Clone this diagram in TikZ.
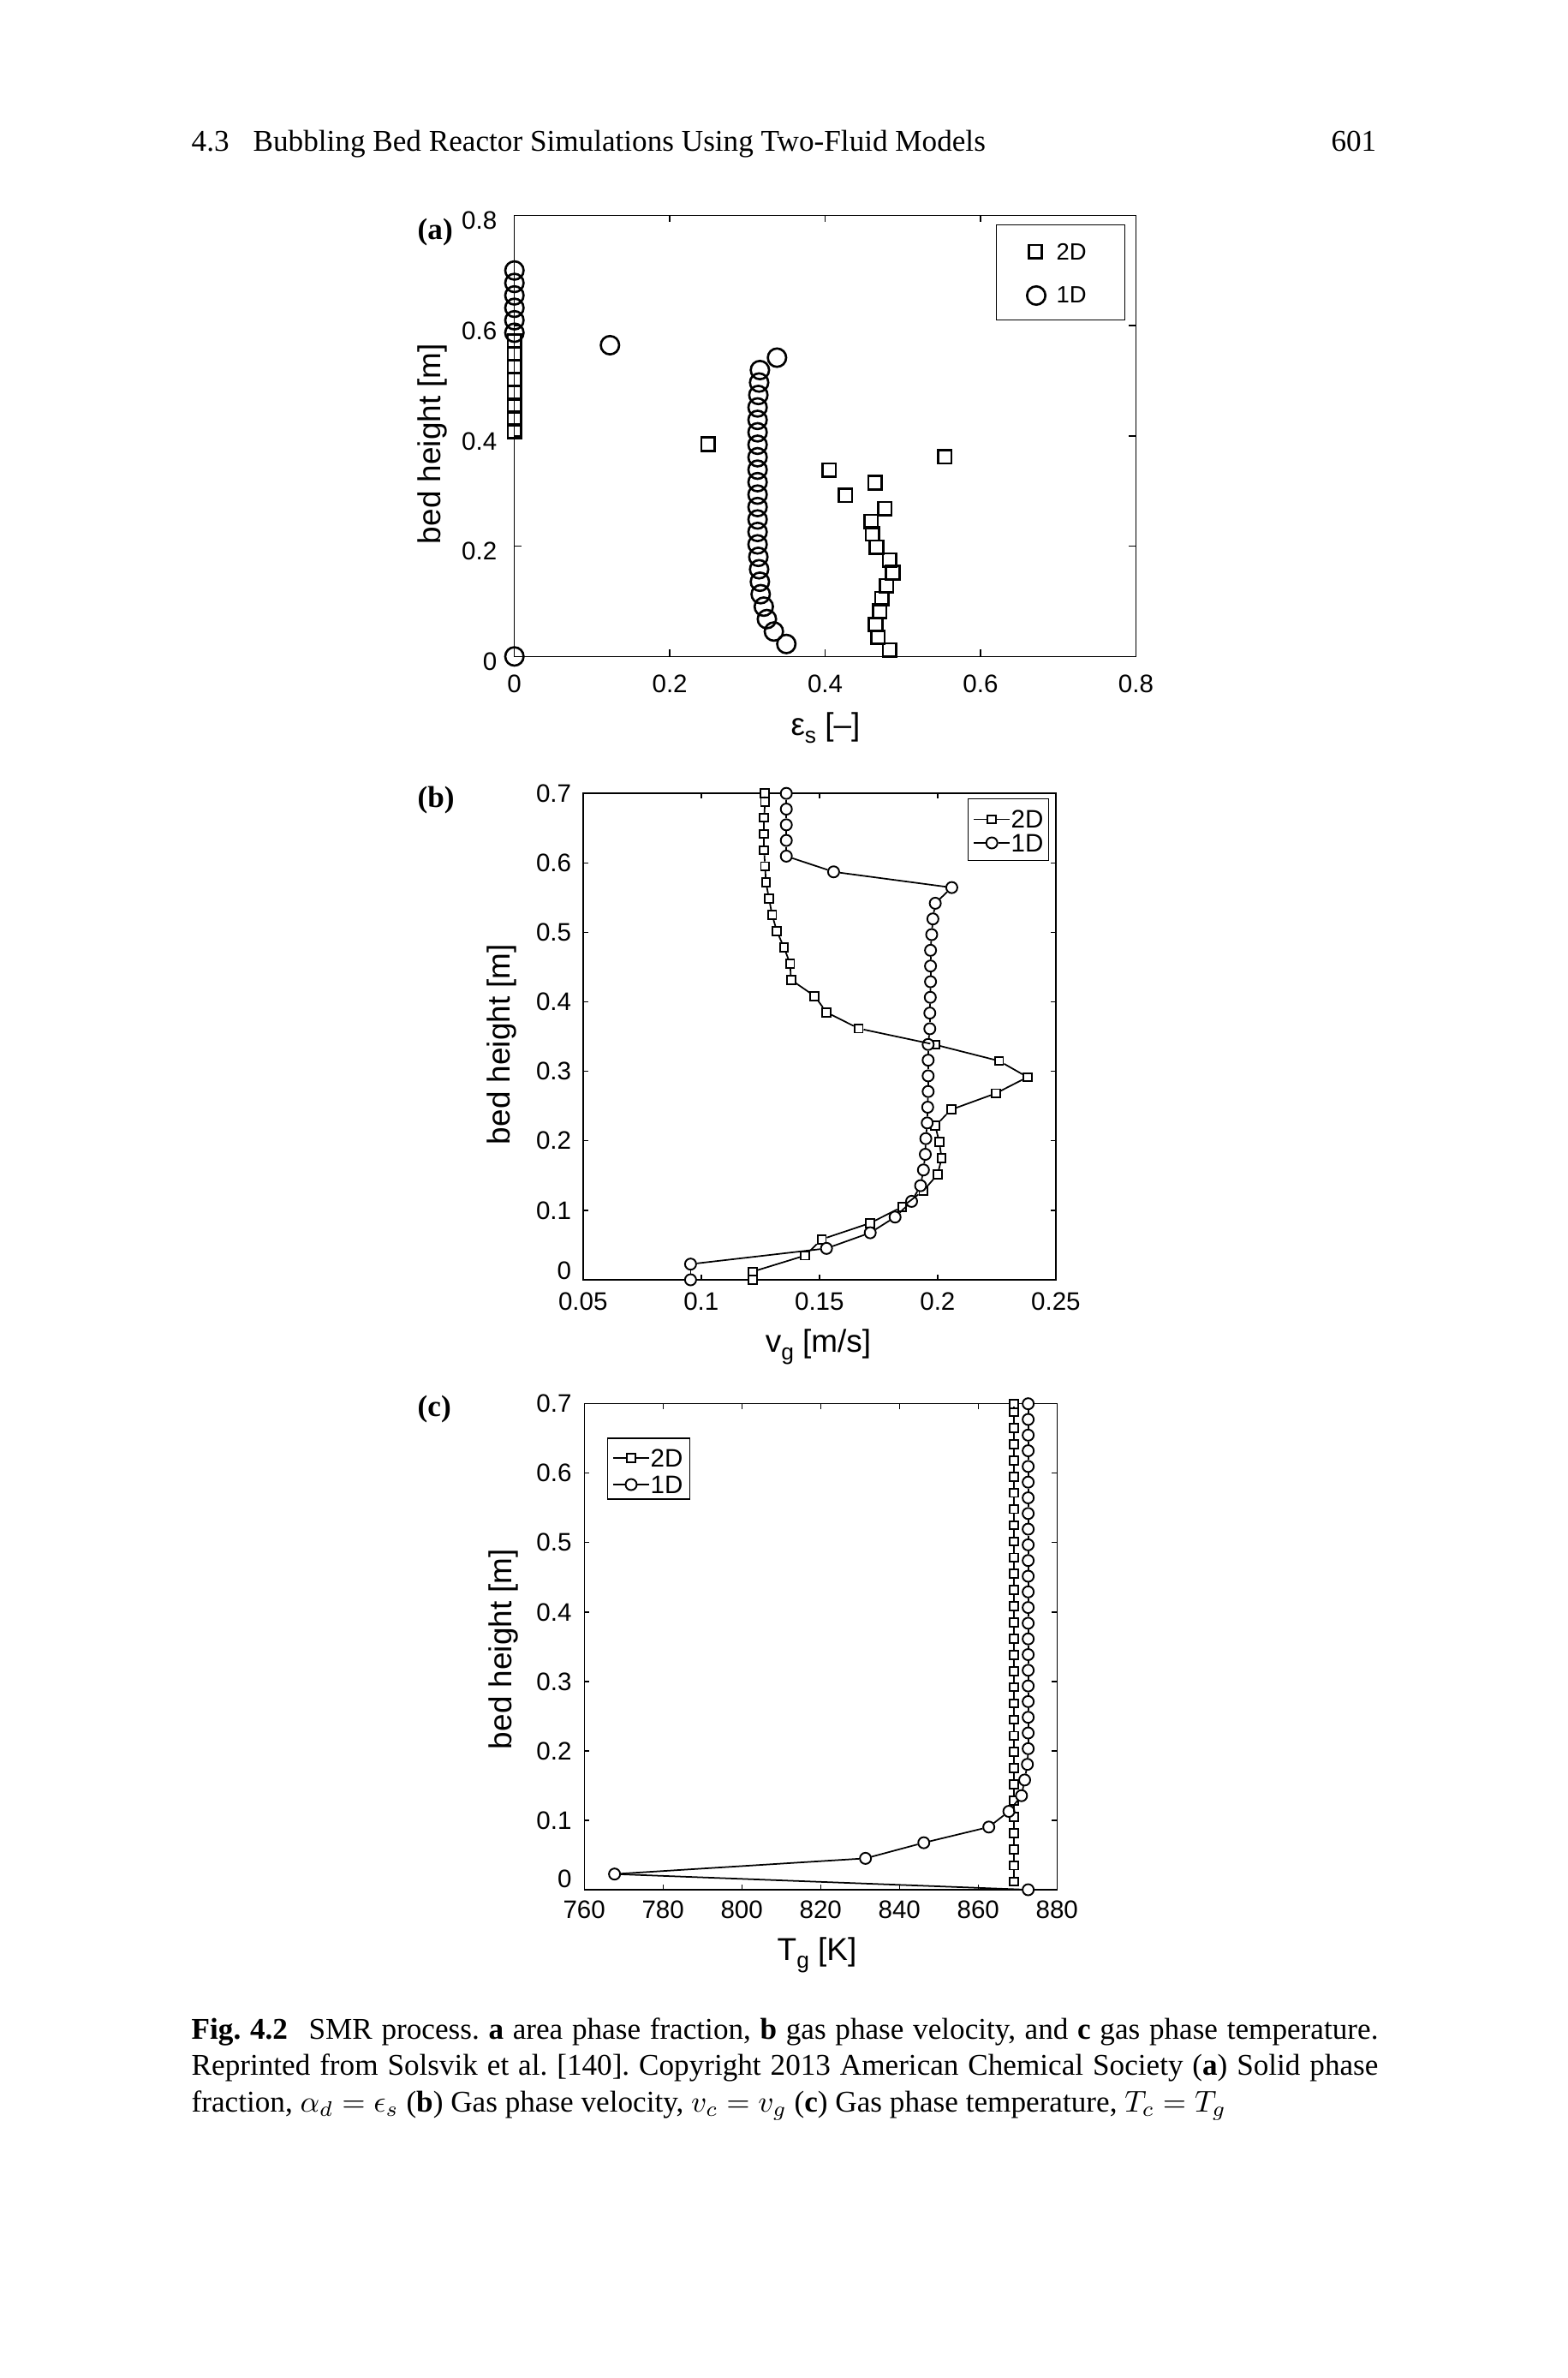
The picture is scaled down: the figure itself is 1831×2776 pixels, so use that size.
\documentclass[tikz,border=0pt]{standalone}
\usepackage{fontspec}
\setmainfont{Liberation Serif}
\newfontfamily\plotfont{Liberation Sans}
\newcommand\plotsub[1]{\raisebox{-0.5ex}{\fontsize{7.5}{8}\selectfont #1}}
\begin{document}
\begin{tikzpicture}[x=0.01cm,y=-0.01cm,
  boxline/.style={line width=0.4pt},
  ticklab/.style={font=\plotfont\fontsize{8.4}{9}\selectfont, inner sep=0pt},
  axlab/.style={font=\plotfont\fontsize{10.5}{12}\selectfont, inner sep=0pt},
  leglab/.style={font=\plotfont\fontsize{8.4}{9}\selectfont, inner sep=0pt, anchor=west},
  amkc/.style={circle, draw, line width=0.75pt, minimum size=0.214cm, inner sep=0pt},
  amks/.style={rectangle, draw, line width=0.75pt, minimum size=0.155cm, inner sep=0pt},
  bmkc/.style={circle, draw, fill=white, line width=0.55pt, minimum size=0.13cm, inner sep=0pt},
  bmks/.style={rectangle, draw, fill=white, line width=0.55pt, minimum size=0.097cm, inner sep=0pt},
  dline/.style={line width=0.5pt},
  pagetxt/.style={font=\fontsize{10}{12}\selectfont, inner sep=0pt},
  panellab/.style={font=\bfseries\fontsize{10}{12}\selectfont, inner sep=0pt, anchor=base west}]
\useasboundingbox (0,0) rectangle (1831,2776);
\fill[white] (0,0) rectangle (1831,2776);

% ---------- header ----------
\node[pagetxt, anchor=base west] (hnum) at (223,177) {4.3};
\node[pagetxt, anchor=base west] (htitle) at (295,177) {Bubbling Bed Reactor Simulations Using Two-Fluid Models};
\node[pagetxt, anchor=base east] (hpage) at (1608,177) {601};

% ---------- panel labels ----------
\node[panellab] (pa) at (487,280) {(a)};
\node[panellab] (pb) at (487,942) {(b)};
\node[panellab] (pc) at (487,1653) {(c)};

% ================= plot (a) =================
\begin{scope}[shift={(600.7,766.3)}, x=9.066cm, y=6.4325cm]
  \draw[boxline] (0,0) rectangle (0.8,0.8);
  \foreach \v in {0.2,0.4,0.6} {
    \draw[boxline] (\v,0) -- ++(0cm,0.08cm);
    \draw[boxline] (\v,0.8) -- ++(0cm,-0.08cm);
    \draw[boxline] (0,\v) -- ++(0.08cm,0cm);
    \draw[boxline] (0.8,\v) -- ++(-0.08cm,0cm);
  }
  \foreach \v [count=\i] in {0,0.2,0.4,0.6,0.8} {
    \node[ticklab, anchor=north, yshift=-0.207cm] (ax\i) at (\v,0) {\v};
    \node[ticklab, anchor=east, xshift=-0.197cm, yshift=-0.06cm] (ay\i) at (0,\v) {\v};
  }
  % 2D squares
  \foreach \px/\py [count=\i] in {0/0.4083,0/0.4317,0/0.455,0/0.4783,0/0.5017,0/0.525,0/0.5483,0/0.5717,
     0.249/0.385,0.554/0.362,0.405/0.338,0.464/0.315,0.426/0.292,0.477/0.268,0.459/0.245,0.461/0.222,
     0.466/0.198,0.483/0.175,0.487/0.152,0.479/0.128,0.473/0.105,0.470/0.082,0.465/0.058,0.468/0.035,0.483/0.0117}
    \node[amks] (aS\i) at (\px,\py) {};
  % 1D circles
  \foreach \px/\py [count=\i] in {0/0,0.350/0.0226,0.334/0.0452,0.325/0.0677,0.321/0.0903,0.317/0.1129,
     0.316/0.1355,0.315/0.1581,0.314/0.1806,0.313/0.2032,0.313/0.2258,0.313/0.2484,0.313/0.2710,
     0.313/0.2935,0.313/0.3161,0.313/0.3387,0.313/0.3613,0.313/0.3839,0.313/0.4065,0.313/0.4290,
     0.313/0.4516,0.314/0.4742,0.315/0.4968,0.316/0.5194,0.338/0.5419,0.123/0.5645,
     0/0.5871,0/0.6097,0/0.6323,0/0.6548,0/0.6774,0/0.7}
    \node[amkc] (aC\i) at (\px,\py) {};
\end{scope}
\node[axlab, rotate=90] (aylab) at (505,518) {bed height [m]};
\node[axlab, anchor=base] (axlab) at (964,858) {ε\plotsub{s} [–]};
% legend (a)
\draw[boxline] (1163.3,262.3) rectangle (1313.3,373.3);
\node[amks] (alm1) at (1209,293.7) {};
\node[leglab, font=\plotfont\fontsize{7.8}{9}\selectfont] (alt1) at (1233,294) {2D};
\node[amkc] (alm2) at (1210,345) {};
\node[leglab, font=\plotfont\fontsize{7.8}{9}\selectfont] (alt2) at (1233,344) {1D};

% ================= plot (b) =================
\begin{scope}[shift={(542.75,1494)}, x=27.59cm, y=8.107cm]
  \draw[boxline] (0.05,0) rectangle (0.25,0.7);
  \foreach \v in {0.1,0.15,0.2} {
    \draw[boxline] (\v,0) -- ++(0cm,0.06cm);
    \draw[boxline] (\v,0.7) -- ++(0cm,-0.06cm);
  }
  \foreach \v in {0.1,0.2,0.3,0.4,0.5,0.6} {
    \draw[boxline] (0.05,\v) -- ++(0.06cm,0cm);
    \draw[boxline] (0.25,\v) -- ++(-0.06cm,0cm);
  }
  \foreach \v [count=\i] in {0.05,0.1,0.15,0.2,0.25}
    \node[ticklab, anchor=north, yshift=-0.14cm] (bx\i) at (\v,0) {\v};
  \foreach \v [count=\i] in {0.1,0.2,0.3,0.4,0.5,0.6,0.7}
    \node[ticklab, anchor=east, xshift=-0.13cm] (by\i) at (0.05,\v) {\v};
  \node[ticklab, anchor=east, xshift=-0.13cm, yshift=0.11cm] (by0) at (0.05,0) {0};
  % 2D
  \foreach \px/\py [count=\i] in {0.1217/0,0.1217/0.0117,0.144/0.035,0.151/0.0583,0.1715/0.0817,
     0.185/0.105,0.194/0.1283,0.200/0.1517,0.2017/0.175,0.2007/0.1983,0.199/0.2217,0.2058/0.245,
     0.2246/0.2683,0.238/0.2917,0.226/0.315,0.199/0.3383,0.1666/0.3617,0.153/0.385,0.148/0.4083,
     0.138/0.4317,0.1376/0.455,0.135/0.4783,0.132/0.5017,0.130/0.525,0.1287/0.5483,0.1274/0.5717,
     0.127/0.595,0.1266/0.6183,0.1266/0.6417,0.1266/0.665,0.127/0.6883,0.1268/0.7}
    \node[bmks] (bS\i) at (\px,\py) {};
  % 1D
  \foreach \px/\py [count=\i] in {0.0955/0,0.0955/0.0226,0.153/0.0452,0.1715/0.0677,0.182/0.0903,
     0.189/0.1129,0.1928/0.1355,0.194/0.1581,0.1948/0.1806,0.195/0.2032,0.1956/0.2258,0.1958/0.2484,
     0.196/0.2710,0.196/0.2935,0.196/0.3161,0.196/0.3387,0.1967/0.3613,0.1967/0.3839,0.1969/0.4065,
     0.197/0.4290,0.197/0.4516,0.197/0.4742,0.1975/0.4968,0.198/0.5194,0.199/0.5419,0.206/0.5645,
     0.156/0.5871,0.136/0.6097,0.136/0.6323,0.136/0.6548,0.136/0.6774,0.136/0.7}
    \node[bmkc] (bC\i) at (\px,\py) {};
  \foreach \i [remember=\i as \j (initially 1)] in {2,...,32} {
    \draw[dline] (bS\j) -- (bS\i);
    \draw[dline] (bC\j) -- (bC\i);
  }
\end{scope}
\node[axlab, rotate=90] (bylab) at (585.5,1219) {bed height [m]};
\node[axlab, anchor=base] (bxlab) at (955.5,1578) {v\plotsub{g} [m/s]};
% legend (b)
\draw[boxline] (1130.4,932.2) rectangle (1224.3,1004.3);
\coordinate (bl1a) at (1137.3,956.5);
\coordinate (bl1b) at (1179.1,956.5);
\node[bmks] (bl1m) at (1158.2,956.5) {};
\draw[dline] (bl1a) -- (bl1m) -- (bl1b);
\node[leglab] (bl1t) at (1180,956.5) {2D};
\coordinate (bl2a) at (1137.3,984);
\coordinate (bl2b) at (1179.1,984);
\node[bmkc] (bl2m) at (1158.2,984) {};
\draw[dline] (bl2a) -- (bl2m) -- (bl2b);
\node[leglab] (bl2t) at (1180,984) {1D};

% ================= plot (c) =================
\begin{scope}[shift={(-2813.9,2206)}, x=0.04598cm, y=8.1cm]
  \draw[boxline] (760,0) rectangle (880,0.7);
  \foreach \v in {780,800,820,840,860} {
    \draw[boxline] (\v,0) -- ++(0cm,0.06cm);
    \draw[boxline] (\v,0.7) -- ++(0cm,-0.06cm);
  }
  \foreach \v in {0.1,0.2,0.3,0.4,0.5,0.6} {
    \draw[boxline] (760,\v) -- ++(0.06cm,0cm);
    \draw[boxline] (880,\v) -- ++(-0.06cm,0cm);
  }
  \foreach \v [count=\i] in {760,780,800,820,840,860,880}
    \node[ticklab, anchor=north, yshift=-0.12cm] (cx\i) at (\v,0) {\v};
  \foreach \v [count=\i] in {0.1,0.2,0.3,0.4,0.5,0.6,0.7}
    \node[ticklab, anchor=east, xshift=-0.14cm] (cy\i) at (760,\v) {\v};
  \node[ticklab, anchor=east, xshift=-0.14cm, yshift=0.13cm] (cy0) at (760,0) {0};
  % 2D
  \foreach \py [count=\i] in {0.0117,0.035,0.0583,0.0817,0.105,0.1283,0.1517,0.175,0.1983,0.2217,
     0.245,0.2683,0.2917,0.315,0.3383,0.3617,0.385,0.4083,0.4317,0.455,0.4783,0.5017,0.525,0.5483,
     0.5717,0.595,0.6183,0.6417,0.665,0.6883,0.7}
    \node[bmks] (cS\i) at (869.1,\py) {};
  % 1D
  \foreach \px/\py [count=\i] in {872.7/0,767.7/0.0226,831.4/0.0452,846.2/0.0677,862.7/0.0903,
     867.8/0.1129,871.0/0.1355,871.8/0.1581,872.5/0.1806,872.7/0.2032,872.7/0.2258,872.7/0.2484,
     872.7/0.2710,872.7/0.2935,872.7/0.3161,872.7/0.3387,872.7/0.3613,872.7/0.3839,872.7/0.4065,
     872.7/0.4290,872.7/0.4516,872.7/0.4742,872.7/0.4968,872.7/0.5194,872.7/0.5419,872.7/0.5645,
     872.7/0.5871,872.7/0.6097,872.7/0.6323,872.7/0.6548,872.7/0.6774,872.7/0.7}
    \node[bmkc] (cC\i) at (\px,\py) {};
  \foreach \i [remember=\i as \j (initially 1)] in {2,...,31}
    \draw[dline] (cS\j) -- (cS\i);
  \foreach \i [remember=\i as \j (initially 1)] in {2,...,32}
    \draw[dline] (cC\j) -- (cC\i);
\end{scope}
\node[axlab, rotate=90] (cylab) at (588,1925) {bed height [m]};
\node[axlab, anchor=base] (cxlab) at (954,2288) {T\plotsub{g} [K]};
% legend (c)
\draw[boxline] (709.5,1679) rectangle (805.2,1750);
\coordinate (cl1a) at (716,1702);
\coordinate (cl1b) at (758,1702);
\node[bmks] (cl1m) at (737,1702) {};
\draw[dline] (cl1a) -- (cl1m) -- (cl1b);
\node[leglab] (cl1t) at (759,1702) {2D};
\coordinate (cl2a) at (716,1733);
\coordinate (cl2b) at (758,1733);
\node[bmkc] (cl2m) at (737,1733) {};
\draw[dline] (cl2a) -- (cl2m) -- (cl2b);
\node[leglab] (cl2t) at (759,1733) {1D};

% ---------- caption ----------
\node[anchor=base west, inner sep=0pt, text width=13.85cm, align=justify,
      font=\fontsize{10}{12.1}\selectfont\frenchspacing] (cap) at (223,2380)
 {\textbf{Fig.\ 4.2}\hspace{0.7em}SMR process. \textbf{a} area phase fraction, \textbf{b} gas phase velocity, and \textbf{c} gas phase temperature.\linebreak
 Reprinted from Solsvik et al.\ [140]. Copyright 2013 American Chemical Society (\textbf{a}) Solid phase\linebreak
 fraction, $\alpha_d=\epsilon_s$ (\textbf{b}) Gas phase velocity, $v_c=v_g$ (\textbf{c}) Gas phase temperature, $T_c=T_g$};
\end{tikzpicture}
\end{document}
